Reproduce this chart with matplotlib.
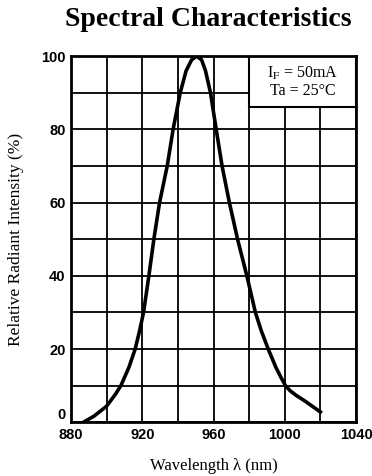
import numpy as np
import matplotlib.pyplot as plt
from matplotlib.patches import Rectangle

# values
wavelength = [887, 893, 900, 905, 908, 912.5, 916, 918.5, 920.7, 923.7, 926.5,
              929.7, 934, 937.3, 941.3, 944.6, 947.7, 950.5, 953.3, 955.5,
              958.3, 961.5, 964.8, 968.9, 973.5, 978.7, 983.5, 986.8, 990.7,
              995, 997.8, 1000.4, 1003, 1006.5, 1011, 1020]
intensity = [0, 1.7, 4.4, 7.7, 10, 15, 20, 25, 30, 40, 50,
             60, 70, 80, 90, 96, 99, 100, 99, 96,
             90, 80, 70, 60, 50, 40, 30, 25, 20,
             15, 12.3, 10, 8.6, 7.3, 5.9, 2.8]
x_ticks = [880, 920, 960, 1000, 1040]
y_ticks = [0, 20, 40, 60, 80, 100]

plt.rcParams['mathtext.fontset'] = 'stix'
serif = 'Liberation Serif'

fig = plt.figure(figsize=(3.72, 4.76), dpi=100)
ax = fig.add_axes([0.191, 0.113, 0.766, 0.769])

ax.set_xlim(880, 1040)
ax.set_ylim(0, 100)
ax.set_xticks(np.arange(880, 1041, 20), minor=True)
ax.set_yticks(np.arange(0, 101, 10), minor=True)
ax.set_xticks(x_ticks)
ax.set_yticks(y_ticks)
ax.grid(True, which='both', color='black', lw=1.3)
ax.set_axisbelow(True)
ax.tick_params(which='both', length=0, pad=4)
for lab in ax.get_xticklabels() + ax.get_yticklabels():
    lab.set_fontfamily('Liberation Sans')
    lab.set_fontweight('bold')
    lab.set_fontsize(10.5)
ax.get_yticklabels()[0].set_verticalalignment('bottom')  # the 0 sits a bit higher
for s in ax.spines.values():
    s.set_linewidth(2)

ax.plot(wavelength, intensity, color='black', lw=2.6, zorder=3,
        solid_joinstyle='round')

# condition box in top right corner
ax.add_patch(Rectangle((980, 86), 60, 14, facecolor='white', edgecolor='black',
                       lw=1.5, zorder=2))
ax.text(1010, 95.3, r'I$_{\rm F}$ = 50mA', ha='center', va='center',
        family=serif, fontsize=11.5, zorder=4)
ax.text(1010, 90.6, 'Ta = 25°C', ha='center', va='center',
        family=serif, fontsize=11.5, zorder=4)

fig.text(0.56, 0.96, 'Spectral Characteristics', ha='center', va='center',
         family=serif, fontweight='bold', fontsize=20)
ax.set_xlabel('Wavelength λ (nm)', family=serif, fontsize=12, labelpad=12)
ax.set_ylabel('Relative Radiant Intensity (%)', family=serif, fontsize=12.5,
              labelpad=12)

fig.savefig('out.png', dpi=100)
